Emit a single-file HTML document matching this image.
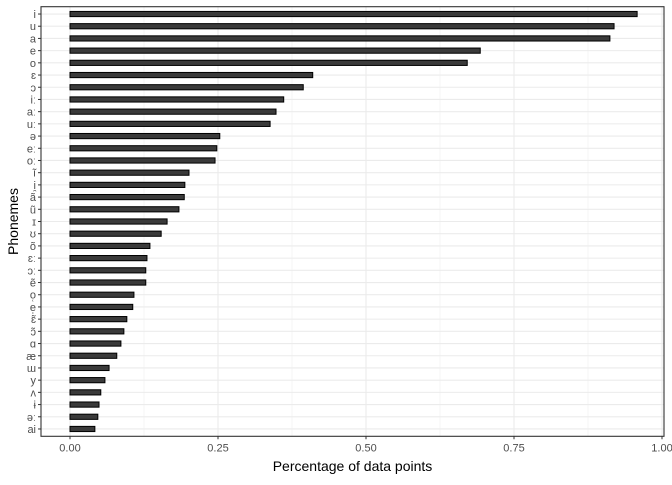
<!DOCTYPE html>
<html><head><meta charset="utf-8"><style>
body{margin:0;background:#fff;font-family:"Liberation Sans","DejaVu Sans",sans-serif;}
</style></head><body>
<svg id="chart" width="672" height="480" xmlns="http://www.w3.org/2000/svg"></svg>
<script>
const categories=["i","u","a","e","o","ɛ","ɔ","iː","aː","uː","ə","eː","oː","ĩ","i̯","ã","ũ","ɪ","ʊ","õ","ɛː","ɔː","ẽ","o̜","e̜","ɛ̃","ɔ̃","ɑ","æ","ɯ","y","ʌ","ɨ","əː","ai"];
const values=[0.958,0.919,0.912,0.693,0.671,0.41,0.394,0.361,0.348,0.338,0.253,0.248,0.245,0.201,0.194,0.193,0.184,0.164,0.154,0.135,0.130,0.128,0.128,0.108,0.106,0.096,0.091,0.086,0.079,0.066,0.059,0.052,0.049,0.047,0.042];
const xTicks=[0,0.25,0.5,0.75,1.0];
const xTickLabels=["0.00","0.25","0.50","0.75","1.00"];
const NS="http://www.w3.org/2000/svg";
const svg=document.getElementById('chart');
const L=41,R=664,T=6.7,B=436.3;
const x0=70,unit=592;
const xs=v=>x0+v*unit;
const n=categories.length;
const step=(B-T)/(n-1+1.2);
const ys=i=>T+0.6*step+i*step;
function mk(tag,attrs,parent){const e=document.createElementNS(NS,tag);for(const k in attrs)e.setAttribute(k,attrs[k]);(parent||svg).appendChild(e);return e;}
const bg=mk('rect',{x:L,y:T,width:R-L,height:B-T,fill:'#fff'});


// minor grid
for(let k=0;k<4;k++){const v=0.125+k*0.25;const g=mk('line',{x1:xs(v),x2:xs(v),y1:T,y2:B,stroke:'#f0f0f0','stroke-width':0.6});

}
xTicks.forEach(v=>{const g=mk('line',{x1:xs(v),x2:xs(v),y1:T,y2:B,stroke:'#ebebeb','stroke-width':1.1});

});
categories.forEach((c,i)=>{const g=mk('line',{x1:L,x2:R,y1:ys(i),y2:ys(i),stroke:'#ebebeb','stroke-width':1.1});

});
categories.forEach((c,i)=>{
const b=mk('rect',{x:xs(0),y:ys(i)-2.6,width:xs(values[i])-xs(0),height:5.2,fill:'#3a3a3a',stroke:'#000','stroke-width':1});


const t=mk('line',{x1:L-3,x2:L,y1:ys(i),y2:ys(i),stroke:'#333','stroke-width':1});


const lb=mk('text',{x:L-5,y:ys(i)+4,'text-anchor':'end','font-size':11,fill:'#4d4d4d','font-family':'"Liberation Sans","DejaVu Sans",sans-serif'});
lb.textContent=c;


});
xTicks.forEach((v,i)=>{
const t=mk('line',{x1:xs(v),x2:xs(v),y1:B,y2:B+3,stroke:'#333','stroke-width':1});


const lb=mk('text',{x:xs(v),y:B+15,'text-anchor':'middle','font-size':11,fill:'#4d4d4d'});
lb.textContent=xTickLabels[i];


});
const border=mk('rect',{x:L,y:T,width:R-L,height:B-T,fill:'none',stroke:'#333','stroke-width':1.1});


const xt=mk('text',{x:(L+R)/2,y:471,'text-anchor':'middle','font-size':14,fill:'#000'});
xt.textContent='Percentage of data points';


const yt=mk('text',{x:0,y:0,'text-anchor':'middle','font-size':14,fill:'#000',transform:'translate(18,'+((T+B)/2)+') rotate(-90)'});
yt.textContent='Phonemes';


</script>
</body></html>
